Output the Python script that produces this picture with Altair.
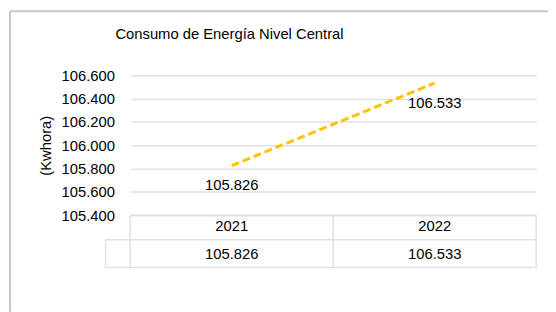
import altair as alt
import pandas as pd

years = ["2021", "2022"]
consumo = [105826, 106533]
y_ticks = [105400, 105600, 105800, 106000, 106200, 106400, 106600]
title_text = "Consumo de Energía Nivel Central"
y_title = "(Kwhora)"

df = pd.DataFrame({"year": years, "kwh": consumo})

FONT = "Liberation Sans"
FS = 15
GRID = "#dde1e6"

base = alt.Chart(df).transform_calculate(
    label="replace(format(datum.kwh, ','), ',', '.')"
)

X = alt.X("year:N", scale=alt.Scale(type="point", padding=0.5), axis=None)
Y = alt.Y(
    "kwh:Q",
    scale=alt.Scale(domain=[y_ticks[0], y_ticks[-1]], nice=False, zero=False),
    axis=alt.Axis(
        values=y_ticks,
        title=y_title,
        labelExpr="replace(format(datum.value, ','), ',', '.')",
        labelOverlap=False,
        grid=True,
        gridColor=GRID,
        gridWidth=1.5,
        domain=False,
        ticks=False,
        labelPadding=16,
        labelFontSize=FS,
        labelFont=FONT,
        labelColor="black",
        titleFontSize=FS,
        titleFont=FONT,
        titleFontWeight="normal",
        titleColor="black",
        titlePadding=8,
    ),
)

line = base.mark_line(color="#FFC000", strokeWidth=3, strokeDash=[8, 4]).encode(x=X, y=Y)
labels = base.mark_text(font=FONT, fontSize=FS, color="black", dy=20).encode(
    x=X, y=Y, text="label:N"
)
row1 = base.mark_text(font=FONT, fontSize=FS, color="black").encode(
    x=X, y=alt.value(153), text="year:N"
)
row2 = base.mark_text(font=FONT, fontSize=FS, color="black").encode(
    x=X, y=alt.value(181), text="label:N"
)

one = alt.Data(values=[{"k": 1}])


def hrule(y, x1, x2, color=GRID, w=1.5):
    return alt.Chart(one).mark_rule(color=color, strokeWidth=w).encode(
        x=alt.value(x1), x2=alt.value(x2), y=alt.value(y)
    )


def vrule(x, y1, y2, color=GRID, w=1.5):
    return alt.Chart(one).mark_rule(color=color, strokeWidth=w).encode(
        x=alt.value(x), y=alt.value(y1), y2=alt.value(y2)
    )


table = [
    hrule(142, 0, 412),
    hrule(167, -25, 412),
    hrule(195, -25, 412),
    vrule(-25, 167, 195),
    vrule(0, 142, 195),
    vrule(206, 142, 195),
    vrule(412, 142, 195),
]
border = [
    hrule(-65, -122, 430, color="#c6c6c6", w=2),
    vrule(-122, -65, 240, color="#c6c6c6", w=2),
]

chart = alt.layer(line, labels, row1, row2, *table, *border).properties(
    width=412,
    height=142,
    padding={"left": 124, "top": 66, "right": 12, "bottom": 96},
    autosize=alt.AutoSizeParams(type="none"),
    title=alt.TitleParams(
        title_text,
        anchor="start",
        dx=108,
        fontSize=FS,
        font=FONT,
        fontWeight="normal",
        color="black",
        offset=-32,
    ),
).configure_view(stroke=None)

chart.save("out.html", embed_options={"renderer": "svg", "actions": False})
